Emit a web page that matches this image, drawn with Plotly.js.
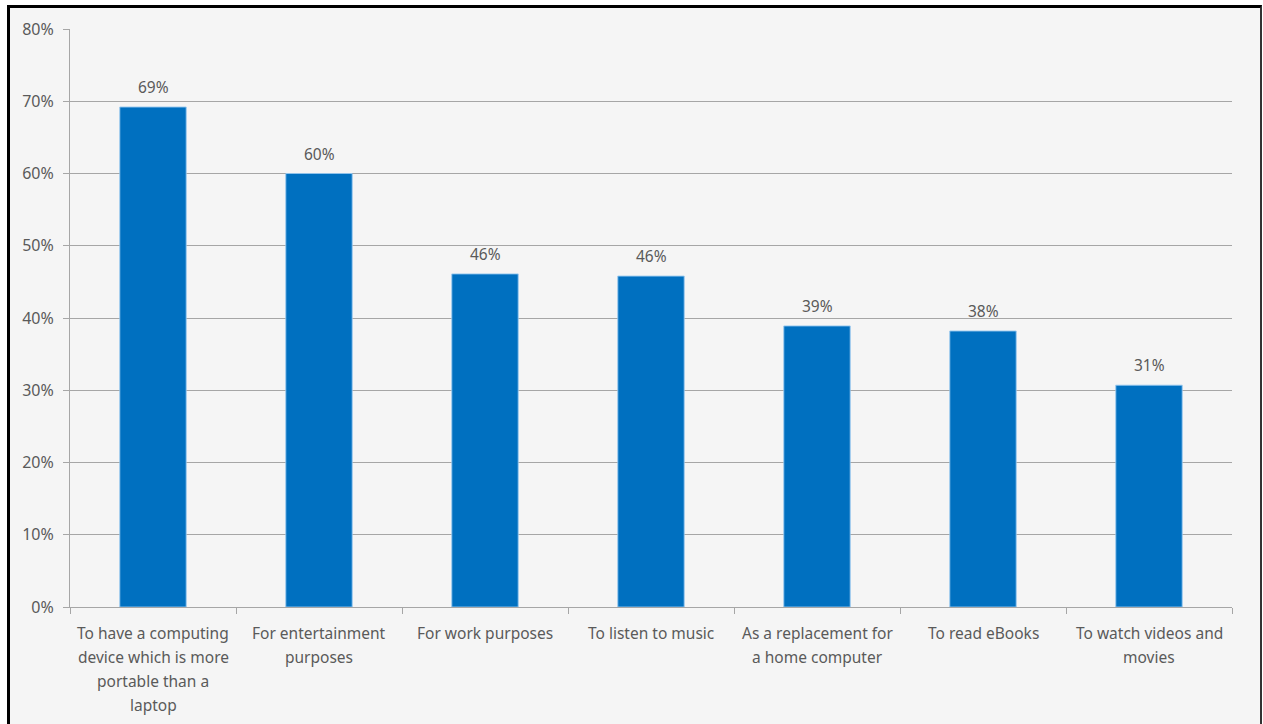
<!DOCTYPE html>
<html><head><meta charset="utf-8">
<script src="https://cdn.plot.ly/plotly-3.0.1.min.js"></script>
<style>
html,body{margin:0;padding:0;background:#fff;}
#frame{position:absolute;left:7px;top:5px;width:1250px;height:722px;background:#f5f5f5;border-left:3px solid #000;border-top:3px solid #000;border-right:2px solid #333;}
#chart{position:absolute;left:0;top:0;width:1263px;height:724px;}
</style></head>
<body>
<div id="frame"></div>
<div id="chart"></div>
<script>
var categories = [
  "To have a computing device which is more portable than a laptop",
  "For entertainment purposes",
  "For work purposes",
  "To listen to music",
  "As a replacement for a home computer",
  "To read eBooks",
  "To watch videos and movies"
];
var labelLines = [
  ["To have a computing", "device which is more", "portable than a", "laptop"],
  ["For entertainment", "purposes"],
  ["For work purposes"],
  ["To listen to music"],
  ["As a replacement for", "a home computer"],
  ["To read eBooks"],
  ["To watch videos and", "movies"]
];
var values = [69.2, 60.0, 46.1, 45.8, 38.9, 38.2, 30.7];
var valueLabels = ["69%", "60%", "46%", "46%", "39%", "38%", "31%"];
var yTicks = [0, 10, 20, 30, 40, 50, 60, 70, 80];

var font = {family: "Noto Sans, Open Sans, sans-serif", size: 15.5, color: "#5a5a5a"};
var tickFont = {family: "Noto Sans, Open Sans, sans-serif", size: 16, color: "#5a5a5a"};
var annotations = [];
categories.forEach(function(c, i){
  annotations.push({x: c, y: values[i], xref: "x", yref: "y", text: valueLabels[i],
    showarrow: false, yanchor: "bottom", yshift: 7, font: font});
  labelLines[i].forEach(function(line, j){
    annotations.push({x: c, y: 0, xref: "x", yref: "y", text: line,
      showarrow: false, yanchor: "middle", yshift: -26 - 24*j, font: font});
  });
});

var trace = {
  type: "bar", x: categories, y: values,
  marker: {color: "#0070c0", line: {color: "rgba(150,200,240,0.9)", width: 1}},
  hoverinfo: "none"
};
var layout = {
  width: 1263, height: 724,
  margin: {l: 70, r: 31, t: 29, b: 117},
  paper_bgcolor: "rgba(0,0,0,0)", plot_bgcolor: "rgba(0,0,0,0)",
  bargap: 0.6,
  showlegend: false,
  font: font,
  xaxis: {type: "category", showticklabels: false, showgrid: false,
    showline: true, linecolor: "#a6a6a6", linewidth: 1,
    ticks: "outside", tickson: "boundaries", ticklen: 6, tickcolor: "#a6a6a6"},
  yaxis: {range: [0, 80], tickvals: yTicks, ticktext: yTicks.map(function(v){return v + "%";}),
    showgrid: true, gridcolor: "#a6a6a6", gridwidth: 1, zeroline: false,
    showline: true, linecolor: "#a6a6a6", linewidth: 1,
    ticks: "outside", ticklen: 6, tickcolor: "#a6a6a6", tickfont: tickFont,
    ticklabelstandoff: 6},
  annotations: annotations
};
Plotly.newPlot("chart", [trace], layout, {displayModeBar: false, staticPlot: true});
</script>
</body></html>
